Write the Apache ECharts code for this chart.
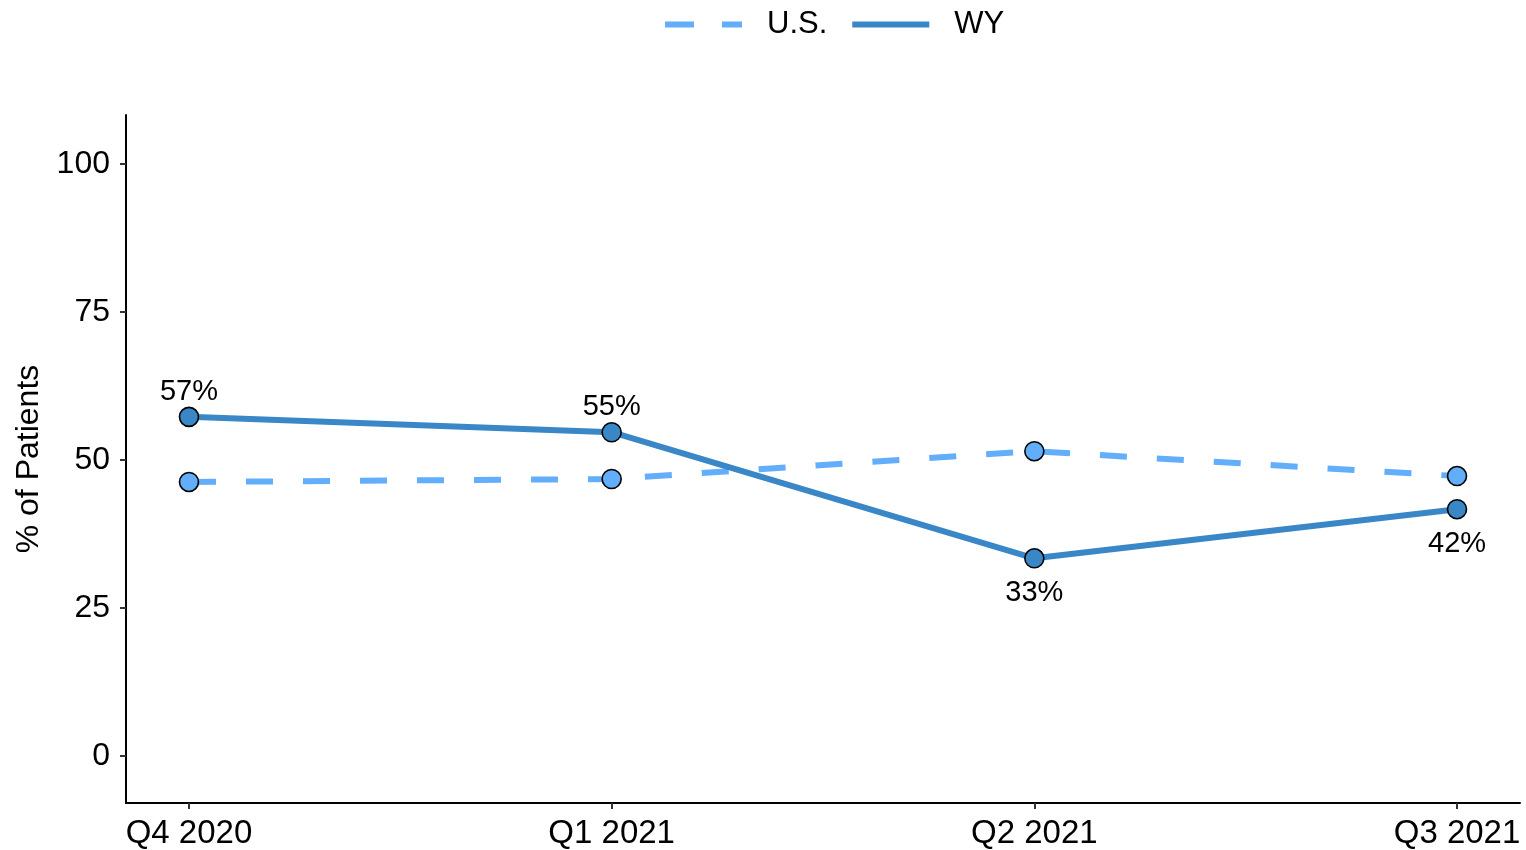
<!DOCTYPE html>
<html lang="en">
<head>
    <meta charset="UTF-8">
    <title>% of Patients</title>
    <script src="https://cdn.jsdelivr.net/npm/echarts@6/dist/echarts.min.js"></script>
    <style>
        html, body {margin: 0; padding: 0; background: #fff;}
    </style>
</head>
<body>
<div id="main" style="width: 1526px;height:850px;"></div>
<script type="text/javascript">
    // data
    var quarters = ['Q4 2020', 'Q1 2021', 'Q2 2021', 'Q3 2021'];
    var usData = [46.3, 46.8, 51.5, 47.3];
    var wyData = [57.3, 54.7, 33.4, 41.7];
    var yTicks = [0, 25, 50, 75, 100];

    var usColor = '#62aefa';
    var wyColor = '#3987c6';
    var font = 'Liberation Sans, Arial, sans-serif';

    function pairs(arr) {
        return arr.map(function (v, i) { return [i, v]; });
    }

    // WY labels go above the point when it sits over the U.S. line, below otherwise
    var wyPoints = wyData.map(function (v, i) {
        var above = v >= usData[i];
        return {
            value: [i, v],
            label: {position: above ? 'top' : 'bottom', distance: above ? 0 : 10}
        };
    });

    var myChart = echarts.init(document.getElementById('main'));
    var option = {
        backgroundColor: '#fff',
        animation: false,
        textStyle: {fontFamily: font, color: '#000'},
        legend: {
            top: 4,
            left: 660,
            itemWidth: 77,
            itemHeight: 6,
            itemGap: 25,
            itemStyle: {borderWidth: 0},
            textStyle: {fontSize: 31, color: '#000', fontFamily: font, padding: [0, 0, 0, 20]},
            data: [
                {name: 'U.S.', icon: 'path://M0,0h29v6h-29z M57,0h20v6h-20z'},
                {name: 'WY', icon: 'rect'}
            ]
        },
        grid: {
            left: 126,
            right: 6,
            top: 115,
            bottom: 47
        },
        xAxis: {
            type: 'value',
            min: -0.149,
            max: 3.149,
            splitLine: {show: false},
            axisLine: {onZero: false, lineStyle: {color: '#000', width: 2}},
            axisTick: {
                customValues: [0, 1, 2, 3],
                length: 6,
                lineStyle: {color: '#333', width: 2}
            },
            axisLabel: {
                customValues: [0, 1, 2, 3],
                margin: 14,
                fontSize: 33,
                color: '#000',
                fontFamily: font,
                formatter: function (v) { return quarters[Math.round(v)]; }
            }
        },
        yAxis: {
            type: 'value',
            min: -7.94,
            max: 108.3,
            name: '% of Patients',
            nameLocation: 'middle',
            nameRotate: 90,
            nameGap: 81,
            nameTextStyle: {fontSize: 32, color: '#000', fontFamily: font},
            splitLine: {show: false},
            axisLine: {show: true, onZero: false, lineStyle: {color: '#000', width: 2}},
            axisTick: {
                show: true,
                customValues: yTicks,
                length: 6,
                lineStyle: {color: '#333', width: 2}
            },
            axisLabel: {
                customValues: yTicks,
                margin: 16,
                fontSize: 32,
                color: '#000',
                fontFamily: font
            }
        },
        series: [
            {
                name: 'U.S.',
                type: 'line',
                color: usColor,
                data: pairs(usData),
                symbol: 'circle',
                symbolSize: 19,
                z: 2,
                lineStyle: {color: usColor, width: 6, type: [27, 30], cap: 'butt'},
                itemStyle: {color: usColor, borderColor: '#000', borderWidth: 1.6}
            },
            {
                name: 'WY',
                type: 'line',
                color: wyColor,
                data: wyPoints,
                symbol: 'circle',
                symbolSize: 19,
                z: 3,
                lineStyle: {color: wyColor, width: 6},
                itemStyle: {color: wyColor, borderColor: '#000', borderWidth: 1.6},
                label: {
                    show: true,
                    fontSize: 29,
                    color: '#000',
                    fontFamily: font,
                    formatter: function (p) { return Math.round(p.value[1]) + '%'; }
                }
            }
        ]
    };
    myChart.setOption(option);
</script>
</body>
</html>
